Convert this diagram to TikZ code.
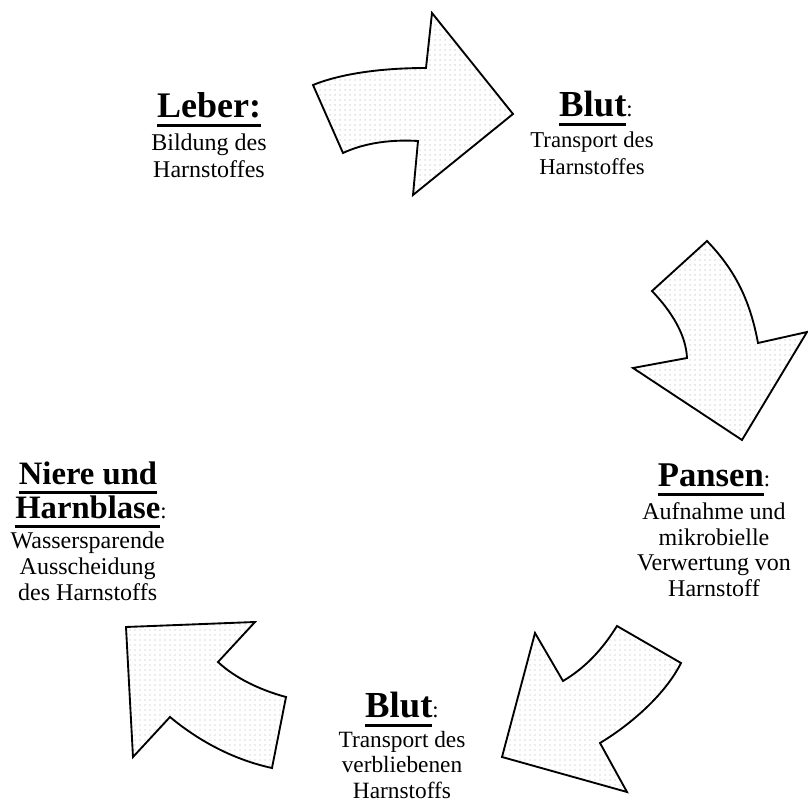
\documentclass[tikz,border=0pt]{standalone}
\usepackage{fontspec}
\setmainfont{Liberation Serif}
\usepackage{tikz}
\usetikzlibrary{patterns, positioning}

\pgfdeclarepatternformonly{sparsedots}{\pgfqpoint{-1pt}{-1pt}}{\pgfqpoint{1pt}{1pt}}%
  {\pgfqpoint{3.75pt}{3.75pt}}%
  {\pgfpathcircle{\pgfqpoint{0pt}{0pt}}{0.55pt}\pgfusepath{fill}}

\newcommand\headul[1]{\setbox0\hbox{#1}\rlap{\rule[-6.5pt]{\wd0}{2.3pt}}\box0}
\newcommand\hcolon{{\mdseries\fontsize{17}{19.5}\selectfont:}}

\begin{document}
\begin{tikzpicture}[
    x=0.75pt, y=-0.75pt,
    bigarrow/.style={draw, line width=1.4pt, line join=miter, miter limit=10,
                     pattern=sparsedots, pattern color=gray!60},
    head/.style={anchor=base, inner sep=0pt,
                 font=\fontsize{#1}{26}\selectfont\bfseries},
    head/.default=26,
    body/.style={align=center, inner sep=0pt,
                 font=\fontsize{#1}{19.2}\selectfont},
    body/.default=18,
]
\useasboundingbox (0,0) rectangle (808,805);

% ── Arrows (cycle, clockwise) ──────────────────────────────────────
% Leber -> Blut (top)
\draw[bigarrow] (313,85) .. controls (340,74) and (380,68) .. (426,68)
    -- (432,13) -- (513,114) -- (413,195) -- (418,141)
    .. controls (385,139) and (360,145) .. (343,153) -- cycle;

% Blut -> Pansen (right)
\draw[bigarrow] (707,241) -- (652,291)
    .. controls (672,312) and (686,335) .. (687,358)
    -- (633,368) -- (742,440) -- (807,332) -- (758,343)
    .. controls (750,300) and (735,270) .. cycle;

% Pansen -> Blut (bottom right)
\draw[bigarrow] (617,626) -- (681,663)
    .. controls (665,695) and (630,725) .. (600,743)
    -- (627,792) -- (502,757) -- (535,633) -- (563,681)
    .. controls (585,668) and (602,650) .. cycle;

% Blut -> Niere (bottom left)
\draw[bigarrow] (126,627) -- (255,622) -- (218,662)
    .. controls (235,678) and (260,690) .. (286,697)
    -- (272,768)
    .. controls (235,760) and (200,742) .. (170,717)
    -- (133,757) -- cycle;

% ── Labels ─────────────────────────────────────────────────────────
\node[head=27] (leber) at (209,118) {\headul{Leber:}};
\node[body, font=\fontsize{18}{20.25}\selectfont, below=5.2pt of leber]
    (leberTxt) {Bildung des\\Harnstoffes};

\node[head=27.5] (blut1) at (596,117) {\headul{Blut}\hcolon};
\node[body, font=\fontsize{17}{20.25}\selectfont, below=4.4pt of blut1,
      xshift=-3pt] (blut1Txt) {Transport des\\Harnstoffes};

\node[head] (pansen) at (714,487) {\headul{Pansen}\hcolon};
\node[body, below=5pt of pansen] (pansenTxt)
    {Aufnahme und\\mikrobielle\\Verwertung von\\Harnstoff};

\node[head=27.5] (blut2) at (402,718) {\headul{Blut}\hcolon};
\node[body=17.5, below=3pt of blut2] (blut2Txt)
    {Transport des\\verbliebenen\\Harnstoffs};

\node[head=24.5] (niere) at (88,485) {\headul{Niere und}};
\node[head=24.5] (harnblase) at (91,519) {\headul{Harnblase}\hcolon};
\node[body, below=3pt of harnblase, xshift=-2.5pt] (niereTxt)
    {Wassersparende\\Ausscheidung\\des Harnstoffs};

\end{tikzpicture}
\end{document}
